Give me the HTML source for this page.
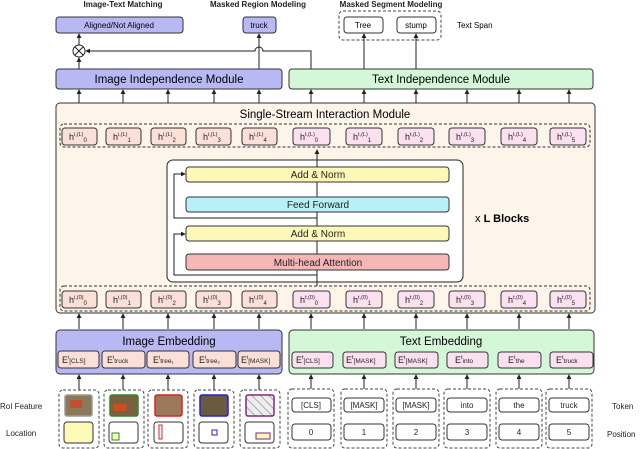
<!DOCTYPE html>
<html><head><meta charset="utf-8"><style>
html,body{margin:0;padding:0;background:#fff}
svg{display:block;font-family:"Liberation Sans",Arial,sans-serif}
</style></head><body>
<svg width="640" height="449" viewBox="0 0 640 449" xmlns="http://www.w3.org/2000/svg">
<defs>
<marker id="a" viewBox="0 0 6 6" refX="5" refY="3" markerWidth="5" markerHeight="5" orient="auto"><path d="M0,0L6,3L0,6z" fill="#222"/></marker>
<pattern id="hatch" width="6" height="6" patternUnits="userSpaceOnUse" patternTransform="rotate(-45)"><rect width="6" height="6" fill="#eee"/><line x1="0" y1="0" x2="0" y2="6" stroke="#aaa" stroke-width="2"/></pattern>
</defs>
<g font-size="8" font-weight="bold" fill="#222" text-anchor="middle">
<text x="123" y="7">Image-Text Matching</text>
<text x="258" y="7">Masked Region Modeling</text>
<text x="391" y="7">Masked Segment Modeling</text>
</g>
<rect x="56" y="17" width="127" height="16" rx="3" fill="#b8b8f5" stroke="#333"/>
<text x="119" y="28" font-size="8" text-anchor="middle">Aligned/Not Aligned</text>
<rect x="243" y="17" width="33" height="16" rx="3" fill="#b8b8f5" stroke="#333"/>
<text x="259" y="28" font-size="8" text-anchor="middle">truck</text>
<rect x="339" y="11" width="102" height="29" rx="4" fill="none" stroke="#444" stroke-dasharray="3,2"/>
<rect x="344" y="17" width="39" height="16" rx="3" fill="#fff" stroke="#333"/>
<text x="363" y="28" font-size="8" text-anchor="middle">Tree</text>
<rect x="397" y="17" width="39" height="16" rx="3" fill="#fff" stroke="#333"/>
<text x="416" y="28" font-size="8" text-anchor="middle">stump</text>
<text x="457" y="28" font-size="8">Text Span</text>
<g stroke="#222" stroke-width="1" fill="none">
<line x1="79" y1="69" x2="79" y2="58" marker-end="url(#a)"/>
<line x1="79" y1="45" x2="79" y2="34" marker-end="url(#a)"/>
<path d="M311,69 V51 H263 A4,4 0 0 0 255,51 H86" marker-end="url(#a)"/>
<line x1="259" y1="69" x2="259" y2="34" marker-end="url(#a)"/>
<line x1="364" y1="69" x2="364" y2="34" marker-end="url(#a)"/>
<line x1="416" y1="69" x2="416" y2="34" marker-end="url(#a)"/>
</g>
<circle cx="79" cy="51" r="6" fill="#fff" stroke="#222"/>
<path d="M75,47L83,55M83,47L75,55" stroke="#222"/>
<rect x="56" y="69" width="226" height="20" rx="3" fill="#b8b8f5" stroke="#333"/>
<text x="169" y="83" font-size="11.5" text-anchor="middle">Image Independence Module</text>
<rect x="289" y="69" width="304" height="20" rx="3" fill="#d4f7d8" stroke="#333"/>
<text x="441" y="83" font-size="11.5" text-anchor="middle">Text Independence Module</text>
<g stroke="#222" fill="none">
<line x1="79" y1="103" x2="79" y2="90" marker-end="url(#a)"/>
<line x1="123" y1="103" x2="123" y2="90" marker-end="url(#a)"/>
<line x1="168" y1="103" x2="168" y2="90" marker-end="url(#a)"/>
<line x1="214" y1="103" x2="214" y2="90" marker-end="url(#a)"/>
<line x1="259" y1="103" x2="259" y2="90" marker-end="url(#a)"/>
<line x1="311" y1="103" x2="311" y2="90" marker-end="url(#a)"/>
<line x1="364" y1="103" x2="364" y2="90" marker-end="url(#a)"/>
<line x1="416" y1="103" x2="416" y2="90" marker-end="url(#a)"/>
<line x1="467" y1="103" x2="467" y2="90" marker-end="url(#a)"/>
<line x1="519" y1="103" x2="519" y2="90" marker-end="url(#a)"/>
<line x1="569" y1="103" x2="569" y2="90" marker-end="url(#a)"/>
</g>
<rect x="56" y="103" width="539" height="210" rx="4" fill="#fdf5ea" stroke="#333"/>
<text x="325" y="118" font-size="11.5" text-anchor="middle">Single-Stream Interaction Module</text>
<rect x="60" y="124" width="530" height="23" rx="4" fill="none" stroke="#333" stroke-dasharray="3,2"/>
<rect x="60" y="286" width="530" height="25" rx="4" fill="none" stroke="#333" stroke-dasharray="3,2"/>
<g stroke="#333" font-size="8">
<g fill="#fbe0d8">
<rect x="62" y="128" width="35" height="17" rx="3"/><rect x="106" y="128" width="35" height="17" rx="3"/><rect x="151" y="128" width="35" height="17" rx="3"/><rect x="196" y="128" width="35" height="17" rx="3"/><rect x="242" y="128" width="35" height="17" rx="3"/>
<rect x="62" y="291" width="35" height="17" rx="3"/><rect x="106" y="291" width="35" height="17" rx="3"/><rect x="151" y="291" width="35" height="17" rx="3"/><rect x="196" y="291" width="35" height="17" rx="3"/><rect x="242" y="291" width="35" height="17" rx="3"/>
</g>
<g fill="#fbe0f0">
<rect x="293" y="128" width="37" height="17" rx="3"/><rect x="346" y="128" width="36" height="17" rx="3"/><rect x="398" y="128" width="36" height="17" rx="3"/><rect x="449" y="128" width="36" height="17" rx="3"/><rect x="501" y="128" width="36" height="17" rx="3"/><rect x="550" y="128" width="36" height="17" rx="3"/>
<rect x="293" y="291" width="37" height="17" rx="3"/><rect x="346" y="291" width="36" height="17" rx="3"/><rect x="398" y="291" width="36" height="17" rx="3"/><rect x="449" y="291" width="36" height="17" rx="3"/><rect x="501" y="291" width="36" height="17" rx="3"/><rect x="550" y="291" width="36" height="17" rx="3"/>
</g>
</g>
<g font-size="9" fill="#222">
<text x="69" y="140">h<tspan font-size="5.5" dy="-4">i,(L)</tspan><tspan font-size="6" dy="6">0</tspan></text>
<text x="113" y="140">h<tspan font-size="5.5" dy="-4">i,(L)</tspan><tspan font-size="6" dy="6">1</tspan></text>
<text x="158" y="140">h<tspan font-size="5.5" dy="-4">i,(L)</tspan><tspan font-size="6" dy="6">2</tspan></text>
<text x="203" y="140">h<tspan font-size="5.5" dy="-4">i,(L)</tspan><tspan font-size="6" dy="6">3</tspan></text>
<text x="249" y="140">h<tspan font-size="5.5" dy="-4">i,(L)</tspan><tspan font-size="6" dy="6">4</tspan></text>
<text x="300" y="140">h<tspan font-size="5.5" dy="-4">t,(L)</tspan><tspan font-size="6" dy="6">0</tspan></text>
<text x="353" y="140">h<tspan font-size="5.5" dy="-4">t,(L)</tspan><tspan font-size="6" dy="6">1</tspan></text>
<text x="405" y="140">h<tspan font-size="5.5" dy="-4">t,(L)</tspan><tspan font-size="6" dy="6">2</tspan></text>
<text x="456" y="140">h<tspan font-size="5.5" dy="-4">t,(L)</tspan><tspan font-size="6" dy="6">3</tspan></text>
<text x="508" y="140">h<tspan font-size="5.5" dy="-4">t,(L)</tspan><tspan font-size="6" dy="6">4</tspan></text>
<text x="557" y="140">h<tspan font-size="5.5" dy="-4">t,(L)</tspan><tspan font-size="6" dy="6">5</tspan></text>
<text x="69" y="303">h<tspan font-size="5.5" dy="-4">i,(0)</tspan><tspan font-size="6" dy="6">0</tspan></text>
<text x="113" y="303">h<tspan font-size="5.5" dy="-4">i,(0)</tspan><tspan font-size="6" dy="6">1</tspan></text>
<text x="158" y="303">h<tspan font-size="5.5" dy="-4">i,(0)</tspan><tspan font-size="6" dy="6">2</tspan></text>
<text x="203" y="303">h<tspan font-size="5.5" dy="-4">i,(0)</tspan><tspan font-size="6" dy="6">3</tspan></text>
<text x="249" y="303">h<tspan font-size="5.5" dy="-4">i,(0)</tspan><tspan font-size="6" dy="6">4</tspan></text>
<text x="300" y="303">h<tspan font-size="5.5" dy="-4">t,(0)</tspan><tspan font-size="6" dy="6">0</tspan></text>
<text x="353" y="303">h<tspan font-size="5.5" dy="-4">t,(0)</tspan><tspan font-size="6" dy="6">1</tspan></text>
<text x="405" y="303">h<tspan font-size="5.5" dy="-4">t,(0)</tspan><tspan font-size="6" dy="6">2</tspan></text>
<text x="456" y="303">h<tspan font-size="5.5" dy="-4">t,(0)</tspan><tspan font-size="6" dy="6">3</tspan></text>
<text x="508" y="303">h<tspan font-size="5.5" dy="-4">t,(0)</tspan><tspan font-size="6" dy="6">4</tspan></text>
<text x="557" y="303">h<tspan font-size="5.5" dy="-4">t,(0)</tspan><tspan font-size="6" dy="6">5</tspan></text>
</g>
<rect x="167" y="160" width="296" height="122" rx="6" fill="#fff" stroke="#222"/>
<g stroke="#333">
<rect x="186" y="167" width="263" height="15" rx="3" fill="#fdf8b8"/>
<rect x="186" y="197" width="263" height="15" rx="3" fill="#b8f0f8"/>
<rect x="186" y="226" width="263" height="15" rx="3" fill="#fdf8b8"/>
<rect x="186" y="254" width="263" height="16" rx="3" fill="#f6b6b6"/>
</g>
<g font-size="10" text-anchor="middle" fill="#222">
<text x="318" y="178">Add &amp; Norm</text>
<text x="318" y="208">Feed Forward</text>
<text x="318" y="237">Add &amp; Norm</text>
<text x="318" y="266">Multi-head Attention</text>
</g>
<g stroke="#222" fill="none">
<line x1="317" y1="286" x2="317" y2="270"/>
<line x1="317" y1="254" x2="317" y2="241"/>
<line x1="317" y1="226" x2="317" y2="212"/>
<line x1="317" y1="197" x2="317" y2="182"/>
<line x1="317" y1="167" x2="317" y2="150" marker-end="url(#a)"/>
<path d="M317,275 H174 V234 H185" marker-end="url(#a)"/>
<path d="M317,218 H174 V174 H185" marker-end="url(#a)"/>
</g>
<text x="475" y="222" font-size="11">x <tspan font-weight="bold">L Blocks</tspan></text>
<g stroke="#222" fill="none">
<line x1="79" y1="329" x2="79" y2="314" marker-end="url(#a)"/><line x1="123" y1="329" x2="123" y2="314" marker-end="url(#a)"/><line x1="168" y1="329" x2="168" y2="314" marker-end="url(#a)"/><line x1="214" y1="329" x2="214" y2="314" marker-end="url(#a)"/><line x1="259" y1="329" x2="259" y2="314" marker-end="url(#a)"/>
<line x1="311" y1="329" x2="311" y2="314" marker-end="url(#a)"/><line x1="364" y1="329" x2="364" y2="314" marker-end="url(#a)"/><line x1="416" y1="329" x2="416" y2="314" marker-end="url(#a)"/><line x1="467" y1="329" x2="467" y2="314" marker-end="url(#a)"/><line x1="519" y1="329" x2="519" y2="314" marker-end="url(#a)"/><line x1="569" y1="329" x2="569" y2="314" marker-end="url(#a)"/>
<line x1="79" y1="390" x2="79" y2="375" marker-end="url(#a)"/><line x1="123" y1="390" x2="123" y2="375" marker-end="url(#a)"/><line x1="168" y1="390" x2="168" y2="375" marker-end="url(#a)"/><line x1="214" y1="390" x2="214" y2="375" marker-end="url(#a)"/><line x1="259" y1="390" x2="259" y2="375" marker-end="url(#a)"/>
<line x1="311" y1="389" x2="311" y2="375" marker-end="url(#a)"/><line x1="364" y1="389" x2="364" y2="375" marker-end="url(#a)"/><line x1="416" y1="389" x2="416" y2="375" marker-end="url(#a)"/><line x1="467" y1="389" x2="467" y2="375" marker-end="url(#a)"/><line x1="519" y1="389" x2="519" y2="375" marker-end="url(#a)"/><line x1="569" y1="389" x2="569" y2="375" marker-end="url(#a)"/>
</g>
<rect x="56" y="330" width="226" height="44" rx="4" fill="#b8b8f5" stroke="#333"/>
<text x="169" y="345" font-size="11.5" text-anchor="middle">Image Embedding</text>
<rect x="289" y="330" width="305" height="44" rx="4" fill="#d4f7d8" stroke="#333"/>
<text x="441" y="345" font-size="11.5" text-anchor="middle">Text Embedding</text>
<g stroke="#333">
<g fill="#fbe0d8">
<rect x="58" y="351" width="41" height="17" rx="3"/><rect x="102" y="351" width="43" height="17" rx="3"/><rect x="147" y="351" width="42" height="17" rx="3"/><rect x="193" y="351" width="43" height="17" rx="3"/><rect x="238" y="351" width="42" height="17" rx="3"/>
</g>
<g fill="#fbe0f0">
<rect x="292" y="352" width="41" height="16" rx="3"/><rect x="343" y="352" width="43" height="16" rx="3"/><rect x="395" y="352" width="43" height="16" rx="3"/><rect x="447" y="352" width="41" height="16" rx="3"/><rect x="498" y="352" width="43" height="16" rx="3"/><rect x="550" y="352" width="43" height="16" rx="3"/>
</g>
</g>
<g font-size="9" fill="#222">
<text x="62" y="363">E<tspan font-size="5.5" dy="-4">i</tspan><tspan font-size="6.5" dy="4">[CLS]</tspan></text>
<text x="107" y="363">E<tspan font-size="5.5" dy="-4">i</tspan><tspan font-size="6.5" dy="4">truck</tspan></text>
<text x="153" y="363">E<tspan font-size="5.5" dy="-4">i</tspan><tspan font-size="6.5" dy="4">tree₁</tspan></text>
<text x="199" y="363">E<tspan font-size="5.5" dy="-4">i</tspan><tspan font-size="6.5" dy="4">tree₂</tspan></text>
<text x="241" y="363">E<tspan font-size="5.5" dy="-4">i</tspan><tspan font-size="6.5" dy="4">[MASK]</tspan></text>
<text x="296" y="363">E<tspan font-size="5.5" dy="-4">t</tspan><tspan font-size="6.5" dy="4">[CLS]</tspan></text>
<text x="346" y="363">E<tspan font-size="5.5" dy="-4">t</tspan><tspan font-size="6.5" dy="4">[MASK]</tspan></text>
<text x="398" y="363">E<tspan font-size="5.5" dy="-4">t</tspan><tspan font-size="6.5" dy="4">[MASK]</tspan></text>
<text x="455" y="363">E<tspan font-size="5.5" dy="-4">t</tspan><tspan font-size="6.5" dy="4">into</tspan></text>
<text x="508" y="363">E<tspan font-size="5.5" dy="-4">t</tspan><tspan font-size="6.5" dy="4">the</tspan></text>
<text x="556" y="363">E<tspan font-size="5.5" dy="-4">t</tspan><tspan font-size="6.5" dy="4">truck</tspan></text>
</g>
<g fill="none" stroke="#444" stroke-dasharray="3,2">
<rect x="59" y="390" width="40" height="58" rx="4"/><rect x="104" y="390" width="40" height="58" rx="4"/><rect x="148" y="390" width="40" height="58" rx="4"/><rect x="194" y="390" width="40" height="58" rx="4"/><rect x="240" y="390" width="40" height="58" rx="4"/>
<rect x="288" y="389" width="46" height="59" rx="4"/><rect x="341" y="389" width="46" height="59" rx="4"/><rect x="393" y="389" width="46" height="59" rx="4"/><rect x="444" y="389" width="46" height="59" rx="4"/><rect x="496" y="389" width="46" height="59" rx="4"/><rect x="546" y="389" width="46" height="59" rx="4"/>
</g>
<rect x="65" y="395" width="27" height="21" rx="2" fill="#8a7a5a" stroke="#999" stroke-width="1.5"/>
<rect x="70" y="400" width="12" height="8" fill="#c05030"/>
<rect x="110" y="395" width="28" height="21" rx="2" fill="#7a6040" stroke="#2a8a2a" stroke-width="1.5"/>
<rect x="113" y="404" width="14" height="7" fill="#c85020"/>
<rect x="155" y="395" width="27" height="21" rx="2" fill="#9a7a5a" stroke="#e02020" stroke-width="1.5"/>
<rect x="200" y="395" width="28" height="21" rx="2" fill="#6a5a40" stroke="#2020e0" stroke-width="1.5"/>
<rect x="246" y="395" width="28" height="21" rx="2" fill="url(#hatch)" stroke="#8a208a" stroke-width="1.5"/>
<g stroke="#333" fill="#fff">
<rect x="64" y="422" width="29" height="21" rx="3" fill="#fdfab8"/>
<rect x="109" y="422" width="29" height="21" rx="3"/>
<rect x="154" y="422" width="29" height="21" rx="3"/>
<rect x="199" y="422" width="29" height="21" rx="3"/>
<rect x="245" y="422" width="29" height="21" rx="3"/>
</g>
<rect x="112" y="433" width="7" height="7" fill="#fdfab8" stroke="#2a8a2a"/>
<rect x="159" y="425" width="3" height="14" fill="#fff" stroke="#e02020"/>
<rect x="212" y="430" width="5" height="5" fill="#fff" stroke="#2020e0"/>
<rect x="256" y="433" width="14" height="6" fill="#fdfab8" stroke="#8a208a"/>
<g stroke="#333" fill="#fff">
<rect x="292" y="398" width="39" height="14" rx="3"/><rect x="344" y="398" width="40" height="14" rx="3"/><rect x="396" y="398" width="40" height="14" rx="3"/><rect x="447" y="398" width="40" height="14" rx="3"/><rect x="499" y="398" width="40" height="14" rx="3"/><rect x="549" y="398" width="40" height="14" rx="3"/>
<rect x="292" y="424" width="39" height="16" rx="3"/><rect x="344" y="424" width="40" height="16" rx="3"/><rect x="396" y="424" width="40" height="16" rx="3"/><rect x="447" y="424" width="40" height="16" rx="3"/><rect x="499" y="424" width="40" height="16" rx="3"/><rect x="549" y="424" width="40" height="16" rx="3"/>
</g>
<g font-size="8" text-anchor="middle" fill="#222">
<text x="311" y="408">[CLS]</text><text x="364" y="408">[MASK]</text><text x="416" y="408">[MASK]</text><text x="467" y="408">into</text><text x="519" y="408">the</text><text x="569" y="408">truck</text>
<text x="311" y="435">0</text><text x="364" y="435">1</text><text x="416" y="435">2</text><text x="467" y="435">3</text><text x="519" y="435">4</text><text x="569" y="435">5</text>
</g>
<g font-size="8" fill="#222">
<text x="0" y="409">RoI Feature</text>
<text x="6" y="436">Location</text>
<text x="612" y="409">Token</text>
<text x="607" y="437">Position</text>
</g>
</svg>
</body></html>
